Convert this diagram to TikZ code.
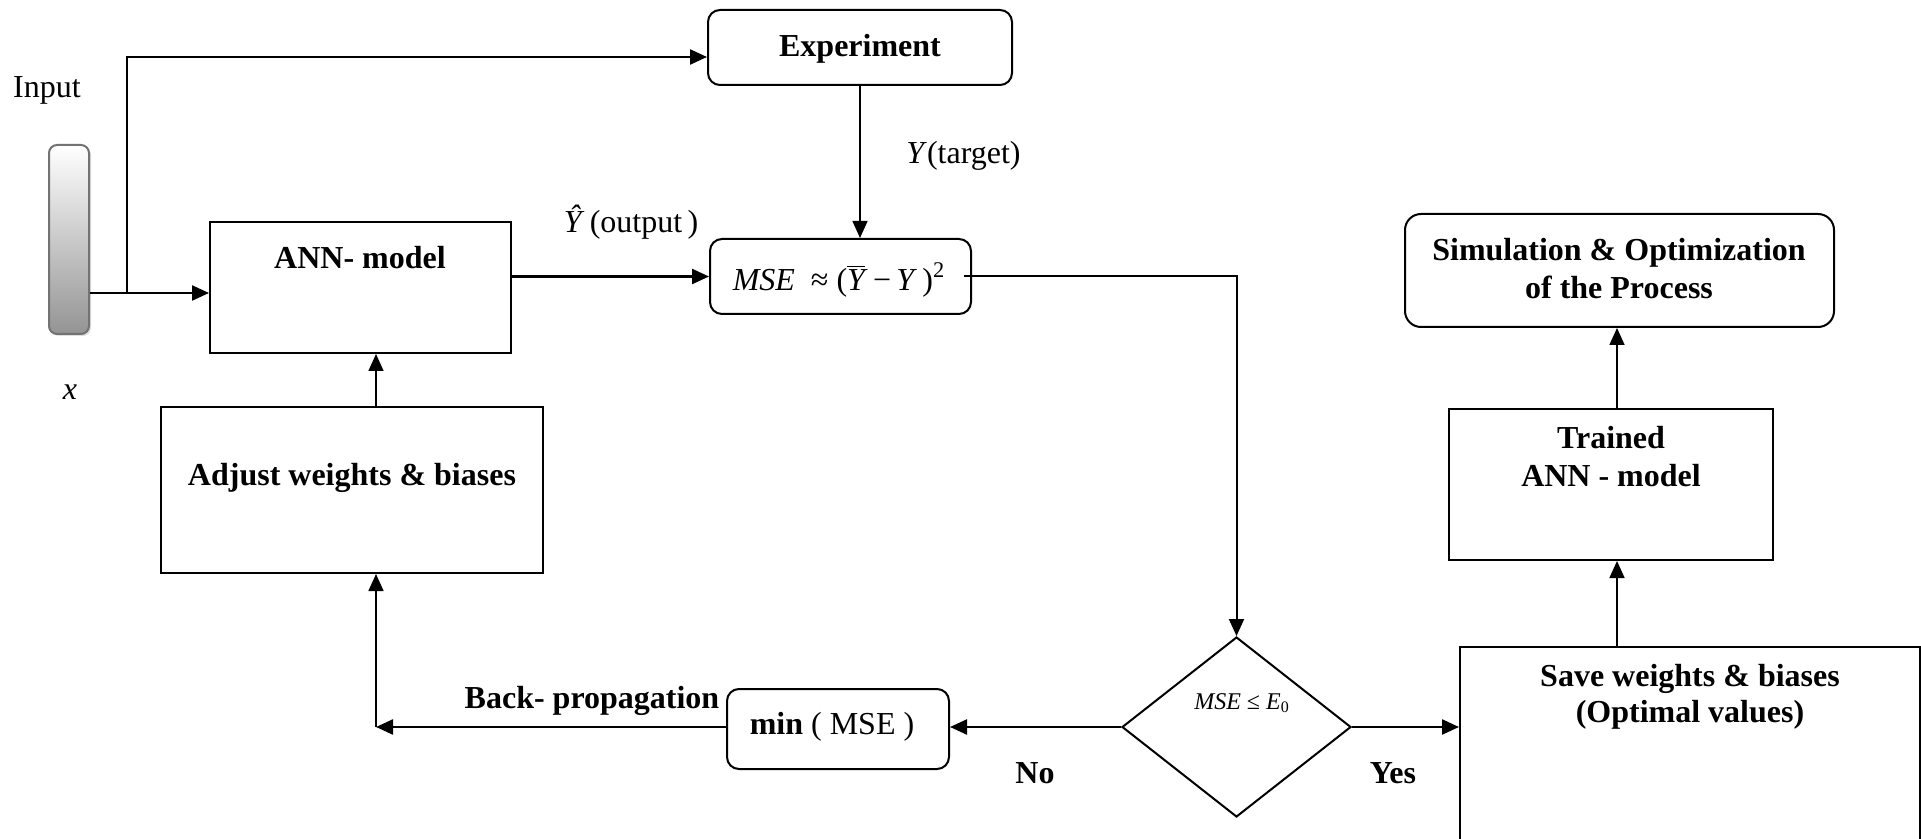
\documentclass[tikz,border=0pt]{standalone}
\usepackage{fontspec}
\setmainfont{Liberation Serif}
\usetikzlibrary{shapes.geometric,arrows.meta,shadows}
\begin{document}
\begin{tikzpicture}[x=0.5pt,y=-0.5pt,
  box/.style={draw, line width=1pt, inner sep=0pt},
  rbox/.style={box, rounded corners=6pt},
  ln/.style={line width=1.2pt},
  arr/.style={line width=1.2pt, -{Triangle[length=8.5pt,width=7.5pt]}},
  thinarr/.style={line width=0.8pt, -{Triangle[length=8.5pt,width=7.5pt]}},
  txt/.style={font=\fontsize{16pt}{19pt}\selectfont, inner sep=0pt, align=center},
  btxt/.style={txt, font=\fontsize{16pt}{19pt}\selectfont\bfseries},
  stxt/.style={txt, font=\fontsize{12pt}{14pt}\selectfont},
]
\clip (0,0) rectangle (1921,839);
\fill[white] (0,0) rectangle (1921,839);

% boxes
\node[rbox, minimum width=152pt, minimum height=37.5pt] (exp) at (860,47.5) {};
\node[box, minimum width=150.5pt, minimum height=65.5pt] (ann) at (360.5,287.5) {};
\node[rbox, minimum width=130.5pt, minimum height=37.5pt] (mse) at (840.5,276.5) {};
\node[box, minimum width=191pt, minimum height=83pt] (adj) at (352,490) {};
\node[rbox, minimum width=111pt, minimum height=40pt] (minb) at (838,729) {};
\node[draw, line width=1pt, diamond, inner sep=0pt, minimum width=114.5pt, minimum height=90pt] (dia) at (1236.5,727) {};
\node[box, minimum width=230pt, minimum height=127pt] (save) at (1690,773.5) {};
\node[box, minimum width=162pt, minimum height=75.5pt] (trained) at (1611,484.5) {};
\node[box, rounded corners=8pt, minimum width=214.5pt, minimum height=56.5pt] (sim) at (1619.5,270.5) {};
\node[draw=black!55, line width=1pt, rounded corners=4pt, inner sep=0pt,
      minimum width=20pt, minimum height=94.5pt, top color=white, bottom color=black!42,
      drop shadow={shadow xshift=1pt, shadow yshift=-1pt, opacity=0.25}] (bar) at (69,239.5) {};

% texts
\node[txt] (inp) at (47,90) {Input};
\node[txt] (xl) at (70,392) {\textit{x}};
\node[btxt] (expt) at (860,49) {Experiment};
\node[txt, anchor=west] (yt) at (906,156) {\textit{Y}(target)};
\node[txt] (yo) at (631,222) {\textit{Ŷ}\,(output\,)};
\node[btxt] (annt) at (360,258) {ANN- model};
\node[txt] (mset) at (839,280) {\textit{MSE}\ \ ≈ ($\overline{\textit{Y}}$\ −\,\textit{Y}\,)\textsuperscript{2}};
\node[btxt] (adjt) at (352,478) {Adjust weights \& biases};
\node[btxt] (bpt) at (592,701) {Back- propagation};
\node[txt] (mint) at (832,727) {\textbf{min} ( MSE )};
\node[btxt] (no) at (1035,773) {No};
\node[btxt] (yes) at (1393,773) {Yes};
\node[stxt] (diat) at (1242,703) {\textit{MSE} ≤ \textit{E}\textsubscript{0}};
\node[btxt, font=\fontsize{16pt}{18pt}\selectfont\bfseries] (savet) at (1690,697) {Save weights \& biases\\(Optimal values)};
\node[btxt] (trt) at (1611,457) {Trained\\ANN - model};
\node[btxt] (simt) at (1619,269) {Simulation \& Optimization\\of the Process};

% coordinates
\coordinate (jn) at (127,293);
\coordinate (tp) at (127,57);
\coordinate (cr) at (376,727);
\coordinate (cy) at (1617,0);

% connectors
\draw[ln] (bar.east |- jn) -- (jn);
\draw[arr] (jn) -- (ann.west |- jn);
\draw[arr] (jn) -- (tp) -- (exp.west |- tp);
\draw[thinarr] (exp.south) -- (exp.south |- mse.north);
\draw[arr] (ann.east |- mse.west) -- (mse.west);
\draw[thinarr, line width=1pt] ([xshift=-4pt]mse.east) -| (dia.north);
\draw[arr] (dia.west) -- (minb.east |- dia.west);
\draw[arr] (minb.west |- dia.west) -- (cr);
\draw[thinarr] (cr) -- (adj.south -| cr);
\draw[thinarr] (adj.north -| cr) -- (ann.south -| cr);
\draw[arr] (dia.east) -- (save.west |- dia.east);
\draw[thinarr] (save.north -| cy) -- (trained.south -| cy);
\draw[thinarr] (trained.north -| cy) -- (sim.south -| cy);
\end{tikzpicture}
\end{document}
